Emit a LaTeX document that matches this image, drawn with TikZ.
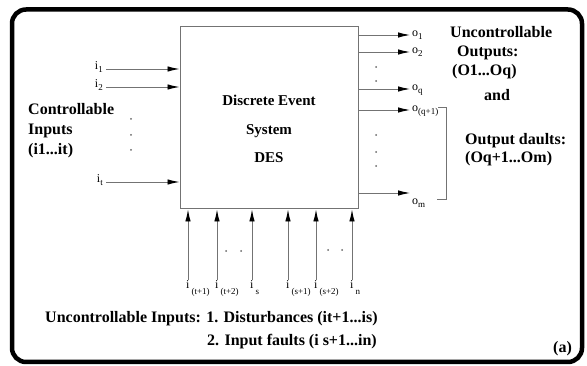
\documentclass[tikz,border=0pt]{standalone}
\usepackage{fontspec}
\setmainfont{Liberation Serif}
\usetikzlibrary{positioning,arrows.meta}
\tikzset{
  sig/.style={draw=black!55,line width=0.9pt,-{Latex[length=12pt,width=5.5pt,color=black]}},
  lbl/.style={font=\fontsize{12}{12}\selectfont,inner sep=0pt},
  head/.style={font=\fontsize{16}{20}\selectfont\bfseries,inner sep=0pt,anchor=base west},
  dotmark/.style={fill=black!60}
}
\newcommand{\Sub}[1]{\raisebox{-3pt}{\fontsize{9}{9}\selectfont#1}}
\newcommand{\Subb}[1]{\raisebox{-6pt}{\fontsize{9}{9}\selectfont#1}}

\begin{document}
\begin{tikzpicture}[x=1pt,y=-1pt]
\useasboundingbox (0,0) rectangle (587,366);
% frame
\draw[line width=4.5pt,rounded corners=14pt] (12,9.5) rectangle (582,362);
% the system
\node[draw=black!55,line width=1pt,minimum width=178pt,minimum height=182pt,inner sep=0pt] (des) at (269,118) {};
\node[font=\fontsize{15}{28.5}\selectfont\bfseries,align=center] (destext) at (269,129) {Discrete Event\\System\\DES};
% controllable inputs
\foreach \n/\y in {1/69,2/87,t/182} {
  \coordinate (ci\n) at (106,\y);
  \node[lbl,anchor=base east] (i\n) at ([shift={(-3,1)}]ci\n) {i\Sub{\n}};
  \draw[sig] (ci\n) -- (ci\n -| des.west);
}
% outputs
\foreach \n/\s/\y in {1/1/35,2/2/52,q/q/89,q1/{(q+1)}/110} {
  \coordinate (co\n) at (410,\y);
  \node[lbl,anchor=base west] (o\n) at ([shift={(2,2)}]co\n) {o\Sub{\s}};
  \draw[sig] (co\n -| des.east) -- (co\n);
}
\coordinate (com) at (410,193);
\node[lbl,anchor=base west] (om) at ([shift={(2,12)}]com) {o\Sub{m}};
\draw[sig] (com -| des.east) -- (com);
\draw[black!55,line width=0.8pt] (438,107) -| (446,199) -- (437,199);
% uncontrollable inputs
\foreach \n/\x/\s in {1/188/{(t+1)},2/217/{(t+2)},3/252/s,4/288/{(s+1)},5/316/{(s+2)},6/352/n} {
  \coordinate (cb\n) at (\x,280);
  \node[lbl,anchor=base west] (ib\n) at ([shift={(-2,9)}]cb\n) {i\,\Subb{\s}};
  \draw[sig] (cb\n) -- (cb\n |- des.south);
}
% dots
\foreach \p in {(131,119),(131,135),(131,150),(376,67),(376,81),(376,135),(376,152),(376,166),(226,251),(241,251),(328,250),(342,250)}
  \fill[dotmark] \p circle (1pt);
% texts
\node[head] (ctrl1) at (28,115) {Controllable};
\node[head] (ctrl2) at (28,135) {Inputs};
\node[head] (ctrl3) at (28,155) {(i1...it)};
\node[head] (uo1) at (450,38) {Uncontrollable};
\node[head] (uo2) at (457,57) {Outputs:};
\node[head] (uo3) at (452,76) {(O1...Oq)};
\node[head] (and) at (484,101) {and};
\node[head] (of1) at (465,145) {Output daults:};
\node[head] (of2) at (465,163) {(Oq+1...Om)};
\node[head] (ui1) at (45,323) {Uncontrollable Inputs: 1. Disturbances (it+1...is)};
\node[head] (ui2) at (207,345) {2. Input faults (i s+1...in)};
\node[head] (tag) at (553,353) {(a)};
\end{tikzpicture}
\end{document}
